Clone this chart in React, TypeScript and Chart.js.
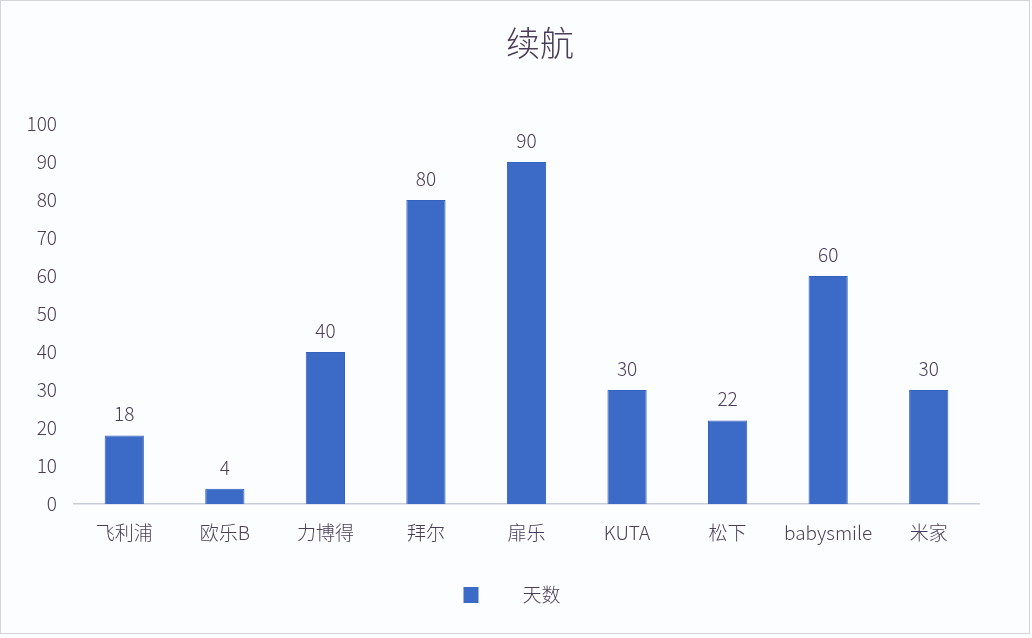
import { useEffect, useRef } from 'react';
import Chart from 'chart.js/auto';

const title = '续航';
const brands = ['飞利浦', '欧乐B', '力博得', '拜尔', '扉乐', 'KUTA', '松下', 'babysmile', '米家'];
const seriesName = '天数';
const days = [18, 4, 40, 80, 90, 30, 22, 60, 30];
const yMax = 100;
const yStep = 10;

const FONT = '"Noto Sans CJK SC", "Noto Sans", sans-serif';
const TEXT = '#4a3d5a';
const BAR = '#3b6bc7';

// value labels above each bar
const valueLabels = {
  id: 'valueLabels',
  afterDatasetsDraw(chart: Chart) {
    const { ctx } = chart;
    const meta = chart.getDatasetMeta(0);
    ctx.save();
    ctx.font = `300 19px ${FONT}`;
    ctx.fillStyle = TEXT;
    ctx.textAlign = 'center';
    ctx.textBaseline = 'bottom';
    meta.data.forEach((bar: any, i: number) => {
      ctx.fillText(String(days[i]), bar.x, bar.y - 12);
    });
    ctx.restore();
  },
};

// title centred on the page, not on the padded box
const pageTitle = {
  id: 'pageTitle',
  afterDraw(chart: Chart) {
    const { ctx } = chart;
    ctx.save();
    ctx.font = `300 34px ${FONT}`;
    ctx.fillStyle = TEXT;
    ctx.textAlign = 'center';
    ctx.textBaseline = 'middle';
    ctx.fillText(title, 540, 43);
    ctx.restore();
  },
};

// legend with a wide gap between the swatch and the text
const bottomLegend = {
  id: 'bottomLegend',
  afterDraw(chart: Chart) {
    const { ctx } = chart;
    const ds = chart.data.datasets[0];
    const cx = (chart.chartArea.left + chart.chartArea.right) / 2;
    const y = 595;
    ctx.save();
    ctx.fillStyle = ds.backgroundColor as string;
    ctx.fillRect(cx - 63, y - 8, 15, 16);
    ctx.font = `300 19px ${FONT}`;
    ctx.fillStyle = TEXT;
    ctx.textAlign = 'left';
    ctx.textBaseline = 'middle';
    ctx.fillText(ds.label as string, cx - 4, y);
    ctx.restore();
  },
};

export default function App() {
  const canvasRef = useRef<HTMLCanvasElement>(null);
  const chartRef = useRef<Chart | null>(null);

  useEffect(() => {
    document.body.style.margin = '0';
    if (!canvasRef.current) return;
    if (chartRef.current) chartRef.current.destroy();

    chartRef.current = new Chart(canvasRef.current, {
      type: 'bar',
      data: {
        labels: brands,
        datasets: [
          {
            label: seriesName,
            data: days,
            backgroundColor: BAR,
            borderColor: '#3262bd',
            borderWidth: 1,
            barPercentage: 0.39,
            categoryPercentage: 1,
          },
        ],
      },
      plugins: [valueLabels, pageTitle, bottomLegend],
      options: {
        animation: false,
        responsive: true,
        maintainAspectRatio: false,
        layout: { padding: { left: 0, right: 53, top: 124, bottom: 0 } },
        plugins: {
          legend: { display: false },
          tooltip: { enabled: false },
          title: { display: false },
        },
        scales: {
          x: {
            grid: { display: false, drawTicks: false },
            border: { display: true, color: '#c9cdd8', width: 1.5 },
            ticks: {
              color: TEXT,
              padding: 17,
              maxRotation: 0,
              autoSkip: false,
              font: { family: FONT, size: 19, weight: 300 },
            },
            afterFit: (scale: any) => {
              scale.height = 134;
            },
          },
          y: {
            min: 0,
            max: yMax,
            grid: { display: false, drawTicks: false },
            border: { display: false },
            ticks: {
              stepSize: yStep,
              color: TEXT,
              padding: 17,
              font: { family: FONT, size: 19, weight: 300 },
            },
            afterFit: (scale: any) => {
              scale.width = 74;
            },
          },
        },
      },
    });

    return () => {
      chartRef.current?.destroy();
      chartRef.current = null;
    };
  }, []);

  return (
    <div style={{ position: 'relative', width: 1032, height: 638, background: '#fcfdfe' }}>
      <div
        style={{
          position: 'absolute',
          left: 0,
          top: 0,
          width: 1028,
          height: 632,
          border: '1px solid #d3d5dc',
          pointerEvents: 'none',
        }}
      />
      <canvas ref={canvasRef} />
    </div>
  );
}
